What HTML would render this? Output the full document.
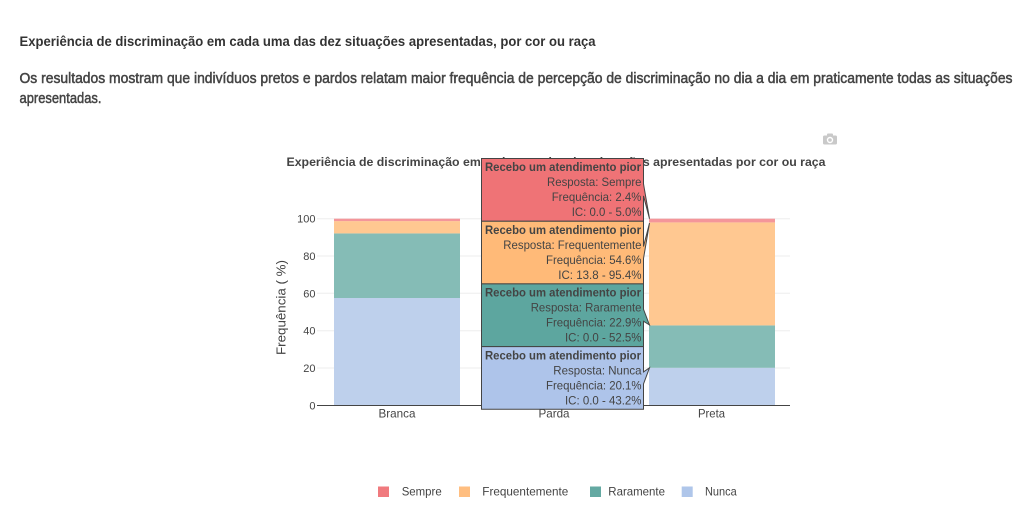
<!DOCTYPE html>
<html>
<head>
<meta charset="utf-8">
<style>
  html,body{margin:0;padding:0;background:#fff;}
  body{width:1024px;height:531px;overflow:hidden;}
  svg{display:block;}
  text{font-family:"Liberation Sans", Arial, sans-serif;}
</style>
</head>
<body>
<svg width="1024" height="531" viewBox="0 0 1024 531" xmlns="http://www.w3.org/2000/svg">
  <rect x="0" y="0" width="1024" height="531" fill="#ffffff"/>

  <!-- Page heading & paragraph -->
  <text x="19.5" y="46" font-size="14" font-weight="bold" fill="#333" textLength="576" lengthAdjust="spacingAndGlyphs">Experiência de discriminação em cada uma das dez situações apresentadas, por cor ou raça</text>
  <text x="19.5" y="83" font-size="15" fill="#444" stroke="#444" stroke-width="0.5" textLength="993" lengthAdjust="spacingAndGlyphs">Os resultados mostram que indivíduos pretos e pardos relatam maior frequência de percepção de discriminação no dia a dia em praticamente todas as situações</text>
  <text x="19.5" y="103" font-size="15" fill="#444" stroke="#444" stroke-width="0.5" textLength="82" lengthAdjust="spacingAndGlyphs">apresentadas.</text>

  <!-- camera icon -->
  <g fill="#c9c9c9">
    <rect x="827" y="133.5" width="6" height="3" rx="1"/>
    <rect x="823" y="135.5" width="14" height="9" rx="1.5"/>
    <circle cx="830" cy="140" r="3.2" fill="#fff"/>
    <circle cx="830" cy="140" r="1.8"/>
  </g>

  <!-- Chart title -->
  <text x="556" y="166" font-size="12" font-weight="bold" fill="#444" text-anchor="middle" textLength="539" lengthAdjust="spacingAndGlyphs">Experiência de discriminação em cada uma das dez situações apresentadas por cor ou raça</text>

  <!-- gridlines -->
  <g stroke="#eeeeee" stroke-width="1">
    <line x1="317" y1="218.7" x2="790" y2="218.7"/>
    <line x1="317" y1="256" x2="790" y2="256"/>
    <line x1="317" y1="293.3" x2="790" y2="293.3"/>
    <line x1="317" y1="330.7" x2="790" y2="330.7"/>
    <line x1="317" y1="368" x2="790" y2="368"/>
  </g>

  <!-- Branca bar -->
  <rect x="334" y="298.0" width="126" height="107.3" fill="#BED0EC"/>
  <rect x="334" y="233.4" width="126" height="64.6" fill="#85BCB6"/>
  <rect x="334" y="221.1" width="126" height="12.3" fill="#FFC891"/>
  <rect x="334" y="218.7" width="126" height="2.4" fill="#F4969A"/>

  <!-- Parda bar (mostly hidden) -->
  <rect x="491" y="367.8" width="126" height="37.5" fill="#BED0EC"/>
  <rect x="491" y="325.0" width="126" height="42.8" fill="#85BCB6"/>
  <rect x="491" y="223.1" width="126" height="101.9" fill="#FFC891"/>
  <rect x="491" y="218.7" width="126" height="4.4" fill="#F4969A"/>

  <!-- Preta bar -->
  <rect x="649" y="367.8" width="126" height="37.5" fill="#BED0EC"/>
  <rect x="649" y="325.4" width="126" height="42.4" fill="#85BCB6"/>
  <rect x="649" y="222.4" width="126" height="103.0" fill="#FFC891"/>
  <rect x="649" y="218.7" width="126" height="3.7" fill="#F4969A"/>

  <!-- zero line -->
  <line x1="317" y1="405.5" x2="790" y2="405.5" stroke="#444" stroke-width="1"/>

  <!-- y tick labels -->
  <g font-size="11" fill="#444" text-anchor="end">
    <text x="315.5" y="222.7">100</text>
    <text x="315.5" y="260">80</text>
    <text x="315.5" y="297.3">60</text>
    <text x="315.5" y="334.7">40</text>
    <text x="315.5" y="372">20</text>
    <text x="315.5" y="409.4">0</text>
  </g>

  <!-- y axis title -->
  <text transform="translate(285.5,307.5) rotate(-90)" font-size="13" fill="#444" text-anchor="middle" textLength="95" lengthAdjust="spacingAndGlyphs">Frequência ( %)</text>

  <!-- x labels -->
  <g font-size="12" fill="#444" text-anchor="middle">
    <text x="397" y="417.5" textLength="37" lengthAdjust="spacingAndGlyphs">Branca</text>
    <text x="554" y="417.5" textLength="31" lengthAdjust="spacingAndGlyphs">Parda</text>
    <text x="711.5" y="417.5" textLength="27" lengthAdjust="spacingAndGlyphs">Preta</text>
  </g>

  <!-- Hover labels -->
  <g stroke="#444" stroke-width="1">
    <path d="M649.5,218.7 L643.5,195.85 V221.2 H481.5 V158.5 H643.5 V183.85 Z" fill="#EF7376"/>
    <path d="M649.5,223.1 L643.5,258.55 V283.9 H481.5 V221.2 H643.5 V246.55 Z" fill="#FFBA78"/>
    <path d="M649.5,325 L643.5,321.25 V346.6 H481.5 V283.9 H643.5 V309.25 Z" fill="#5DA69F"/>
    <path d="M649.5,367.8 L643.5,383.95 V409.3 H481.5 V346.6 H643.5 V371.95 Z" fill="#AEC4EA"/>
  </g>

  <g font-size="12" fill="#444">
    <!-- box 1 -->
    <text x="485" y="171.2" font-weight="bold" textLength="156" lengthAdjust="spacingAndGlyphs">Recebo um atendimento pior</text>
    <text x="547" y="186.2" textLength="94.5" lengthAdjust="spacingAndGlyphs">Resposta: Sempre</text>
    <text x="551.7" y="201.2" textLength="89.8" lengthAdjust="spacingAndGlyphs">Frequência: 2.4%</text>
    <text x="571.7" y="216.2" textLength="69.8" lengthAdjust="spacingAndGlyphs">IC: 0.0 - 5.0%</text>
    <!-- box 2 -->
    <text x="485" y="233.9" font-weight="bold" textLength="156" lengthAdjust="spacingAndGlyphs">Recebo um atendimento pior</text>
    <text x="503.3" y="248.9" textLength="138.2" lengthAdjust="spacingAndGlyphs">Resposta: Frequentemente</text>
    <text x="546" y="263.9" textLength="95.5" lengthAdjust="spacingAndGlyphs">Frequência: 54.6%</text>
    <text x="558.3" y="278.9" textLength="83.2" lengthAdjust="spacingAndGlyphs">IC: 13.8 - 95.4%</text>
    <!-- box 3 -->
    <text x="485" y="296.6" font-weight="bold" textLength="156" lengthAdjust="spacingAndGlyphs">Recebo um atendimento pior</text>
    <text x="530.7" y="311.6" textLength="110.8" lengthAdjust="spacingAndGlyphs">Resposta: Raramente</text>
    <text x="546" y="326.6" textLength="95.5" lengthAdjust="spacingAndGlyphs">Frequência: 22.9%</text>
    <text x="565" y="341.6" textLength="76.5" lengthAdjust="spacingAndGlyphs">IC: 0.0 - 52.5%</text>
    <!-- box 4 -->
    <text x="485" y="359.3" font-weight="bold" textLength="156" lengthAdjust="spacingAndGlyphs">Recebo um atendimento pior</text>
    <text x="553.3" y="374.3" textLength="88.2" lengthAdjust="spacingAndGlyphs">Resposta: Nunca</text>
    <text x="546" y="389.3" textLength="95.5" lengthAdjust="spacingAndGlyphs">Frequência: 20.1%</text>
    <text x="565" y="404.3" textLength="76.5" lengthAdjust="spacingAndGlyphs">IC: 0.0 - 43.2%</text>
  </g>

  <!-- Legend -->
  <rect x="378" y="486.5" width="11" height="10.5" fill="#F07A7E"/>
  <rect x="459" y="486.5" width="11" height="10.5" fill="#FFBE80"/>
  <rect x="590" y="486.5" width="11" height="10.5" fill="#64A9A2"/>
  <rect x="681.7" y="486.5" width="11" height="10.5" fill="#AFC6EA"/>
  <g font-size="12" fill="#444">
    <text x="401.7" y="495.5" textLength="40" lengthAdjust="spacingAndGlyphs">Sempre</text>
    <text x="482.3" y="495.5" textLength="86" lengthAdjust="spacingAndGlyphs">Frequentemente</text>
    <text x="608.3" y="495.5" textLength="56.7" lengthAdjust="spacingAndGlyphs">Raramente</text>
    <text x="705" y="495.5" textLength="31.7" lengthAdjust="spacingAndGlyphs">Nunca</text>
  </g>
</svg>
</body>
</html>
